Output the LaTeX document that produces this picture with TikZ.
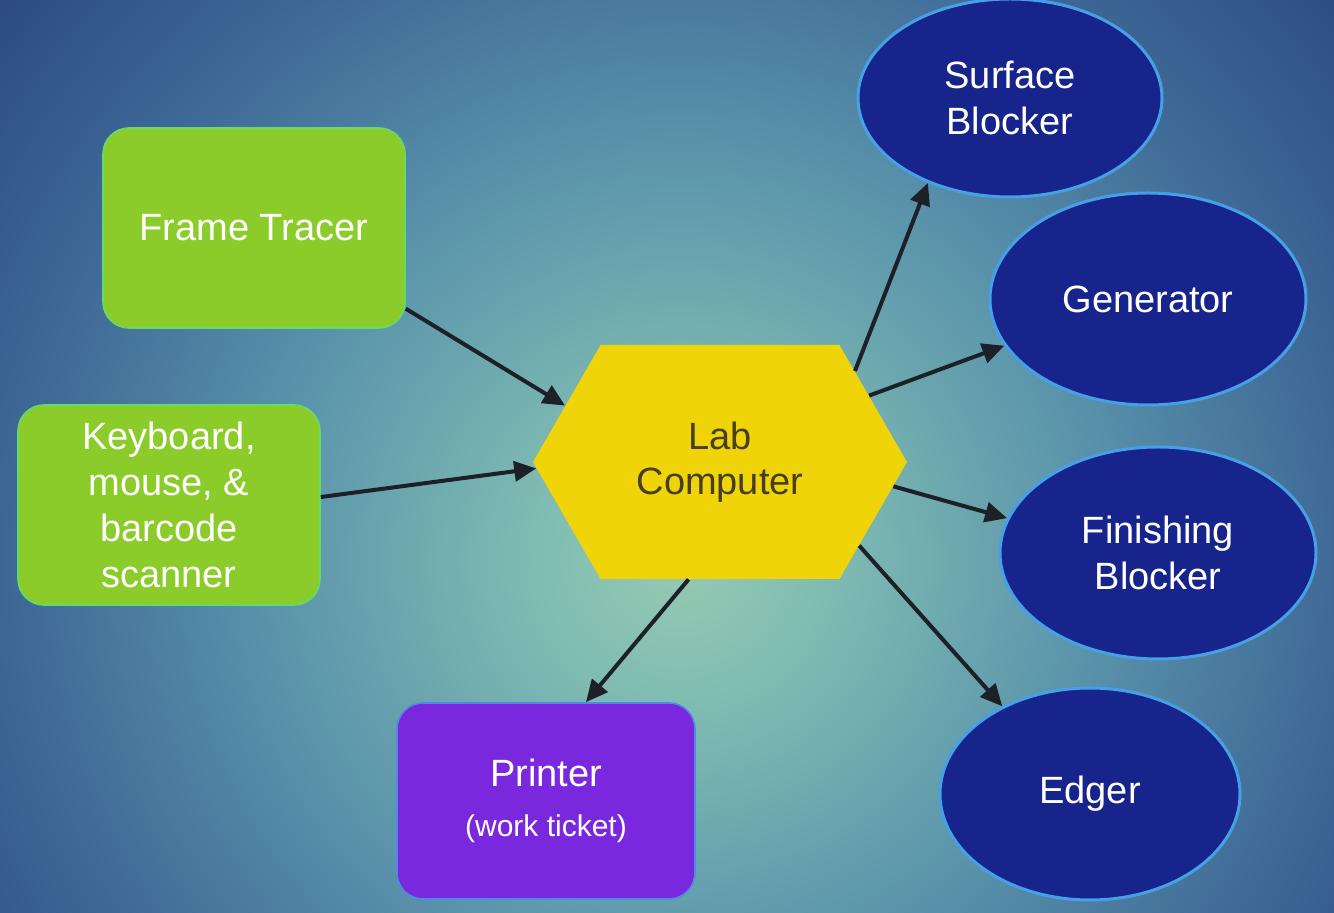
\documentclass[tikz,border=0pt]{standalone}
\usepackage{fontspec}
\setmainfont{Liberation Sans}
\usetikzlibrary{shapes.geometric,shapes.symbols,arrows.meta}
\definecolor{bgdark}{RGB}{42,72,130}
\definecolor{bgmid}{RGB}{92,150,172}
\definecolor{bgmid2}{RGB}{62,104,150}
\definecolor{bglight}{RGB}{150,202,178}
\definecolor{bglight2}{RGB}{128,188,178}
\definecolor{boxgreen}{RGB}{140,204,42}
\definecolor{hexyellow}{RGB}{238,212,8}
\definecolor{hextext}{RGB}{70,62,30}
\definecolor{navy}{RGB}{22,36,140}
\definecolor{rimblue}{RGB}{70,160,230}
\definecolor{boxpurple}{RGB}{122,40,222}
\definecolor{arrowdark}{RGB}{30,32,40}
\pgfdeclareradialshading{bgshade}{\pgfpoint{0bp}{0bp}}{%
  color(0bp)=(bglight); color(4bp)=(bglight2); color(11bp)=(bgmid);
  color(18.5bp)=(bgmid2); color(25bp)=(bgdark); color(50bp)=(bgdark)}
\tikzset{
  greenbox/.style={rectangle, rounded corners=13pt, fill=boxgreen, draw=boxgreen!70!cyan, line width=0.8pt,
    minimum width=151pt, minimum height=100pt, text=white, align=center,
    font=\fontsize{19}{23}\selectfont},
  purplebox/.style={rectangle, rounded corners=13pt, fill=boxpurple, draw=rimblue!80!boxpurple, line width=0.8pt,
    minimum width=149pt, minimum height=98pt, text=white, align=center,
    font=\fontsize{19}{23}\selectfont},
  hexnode/.style={signal, signal to=east and west, signal pointer angle=120, fill=hexyellow,
    minimum width=187pt, minimum height=117pt, inner sep=0pt, text=hextext, align=center,
    font=\fontsize{19}{22.5}\selectfont},
  oval/.style={ellipse, fill=navy, draw=rimblue, line width=1.5pt, text=white, align=center,
    inner sep=0pt, font=\fontsize{19}{23}\selectfont},
  link/.style={draw=arrowdark, line width=2pt, -{Triangle[length=11pt,width=10pt]}}
}
\begin{document}
\begin{tikzpicture}[x=0.5pt,y=-0.5pt]
\path[use as bounding box] (0,0) rectangle (1334,913);
\begin{scope}
\clip (0,0) rectangle (1334,913);
\fill[bgdark] (0,0) rectangle (1334,913);
\shade[shading=bgshade] (-220,-340) rectangle (1580,1460);
\end{scope}

\node[greenbox] (ft) at (254,228) {Frame Tracer};
\node[greenbox] (kb) at (169,505) {Keyboard,\\mouse, \&\\barcode\\scanner};
\node[hexnode] (lab) at (720,462) {Lab\\Computer};
\node[purplebox] (pr) at (546,801) {Printer\\[2pt]{\fontsize{15}{18}\selectfont(work ticket)}};

\node[oval, minimum width=152pt, minimum height=99pt] (sb) at (1010,98) {Surface\\Blocker};
\node[oval, minimum width=158pt, minimum height=106pt] (gen) at (1148,299) {Generator};
\node[oval, minimum width=158pt, minimum height=106pt] (fb) at (1158,553) {Finishing\\Blocker};
\node[oval, minimum width=150pt, minimum height=106pt] (ed) at (1090,794) {Edger};

\draw[link] (ft.-28) -- (lab.160);
\draw[link] (kb.3) -- (lab.182);
\draw[link] (lab.34) -- (sb.226);
\draw[link] (lab.24) -- (gen.198);
\draw[link] (lab.352) -- (fb.167);
\draw[link] (lab.329) -- (ed.135);
\draw[link] (lab.255) -- (pr.68);
\end{tikzpicture}
\end{document}
